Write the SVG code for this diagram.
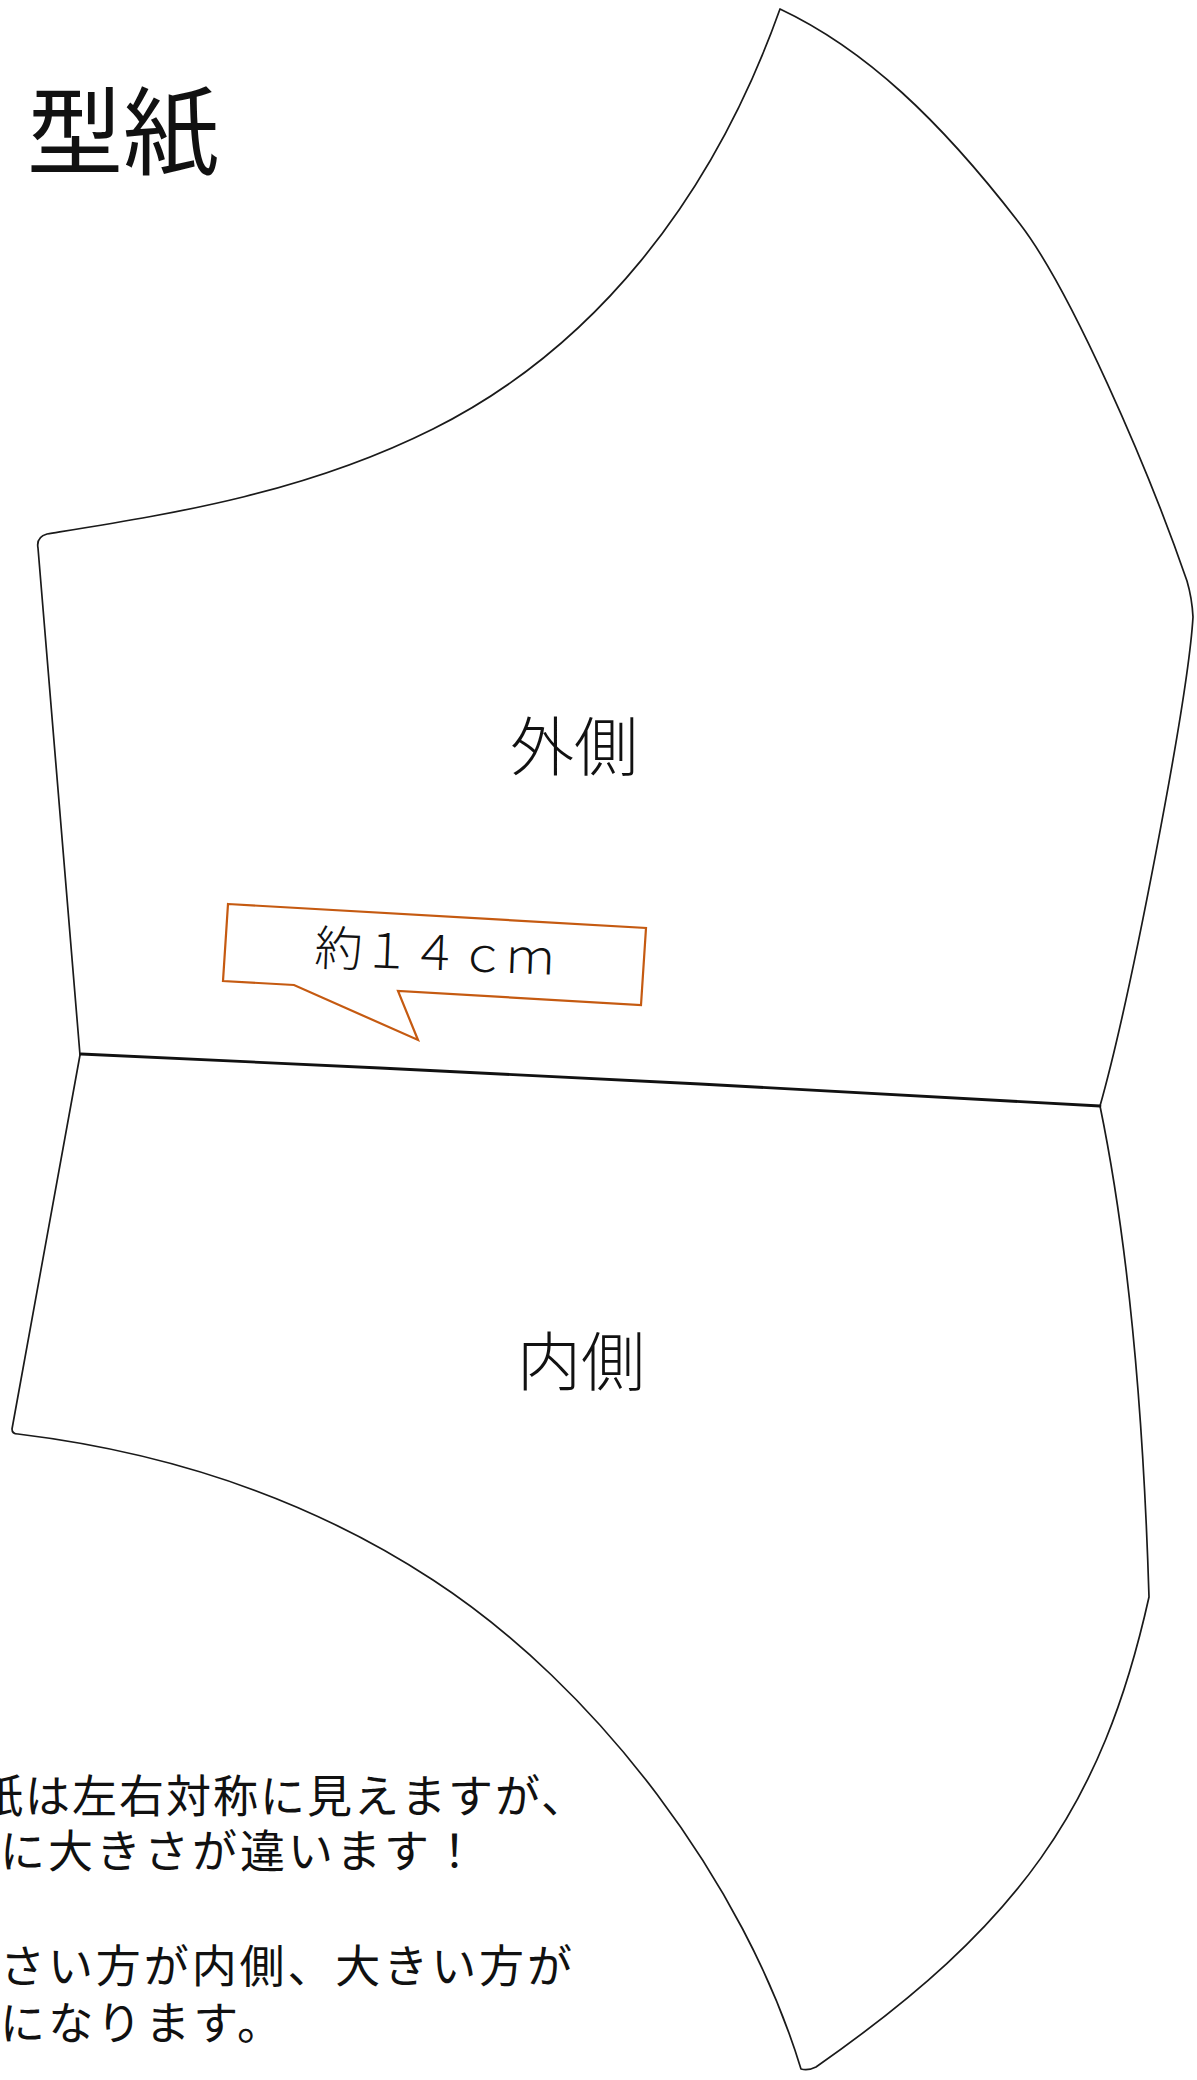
<svg xmlns="http://www.w3.org/2000/svg" width="1197" height="2080" viewBox="0 0 1197 2080">
  <style>
    .outline { fill: none; stroke: #1a1a1a; stroke-width: 1.7; stroke-linejoin: round; stroke-linecap: round; }
    .seam { fill: none; stroke: #111; stroke-width: 2.8; stroke-linecap: round; }
    .jp { font-family: "Noto Sans CJK JP", "Noto Sans", sans-serif; fill: #111; }
    .thin { font-weight: 300; }
    .callout { fill: #ffffff; stroke: #C55A11; stroke-width: 2.2; stroke-linejoin: miter; }
    .note { font-size: 45px; }
  </style>
  <rect x="0" y="0" width="1197" height="2080" fill="#ffffff"/>

  <g id="title">
    <text class="jp" x="27" y="167" font-size="96">型紙</text>
  </g>

  <g id="outer-piece">
    <path class="outline" d="M80,1055 L38,548 Q36,537 47,534 C170,514 303,494 433,429 C593,349 712,200 780,9 C865,49 940,120 1020,224 C1070,289 1147,465 1187,581 Q1192,598 1193,617 C1188,700 1130,1000 1100,1106"/>
    <text class="jp thin" x="510" y="770" font-size="64">外側</text>
  </g>

  <g id="inner-piece">
    <path class="outline" d="M80,1055 L12,1429 Q12,1434 18,1434 C158,1451 303,1495 433,1580 C597,1687 744,1882 801,2069 Q808,2071 816,2067 C1019,1925 1102,1808 1149,1597 Q1140,1300 1100,1106"/>
    <text class="jp thin" x="517" y="1385" font-size="64">内側</text>
  </g>

  <g id="connectors">
    <path class="seam" d="M81,1054 L380,1068 L700,1084 L1100,1106"/>
  </g>

  <g id="callout">
    <polygon class="callout" points="228,904 646,928 641,1005 398,991 418,1040 294,985 223,981"/>
    <text class="jp thin" x="314" y="965" font-size="48" transform="rotate(2.3 314 965)">約１４ｃｍ</text>
  </g>

  <g id="note">
    <text class="jp note" x="-22" y="1813" textLength="608" lengthAdjust="spacing">紙は左右対称に見えますが、</text>
    <text class="jp note" x="0" y="1868" textLength="477" lengthAdjust="spacing">に大きさが違います！</text>
    <text class="jp note" x="0" y="1983" textLength="572" lengthAdjust="spacing">さい方が内側、大きい方が</text>
    <text class="jp note" x="0" y="2040" textLength="282" lengthAdjust="spacing">になります。</text>
  </g>
</svg>
